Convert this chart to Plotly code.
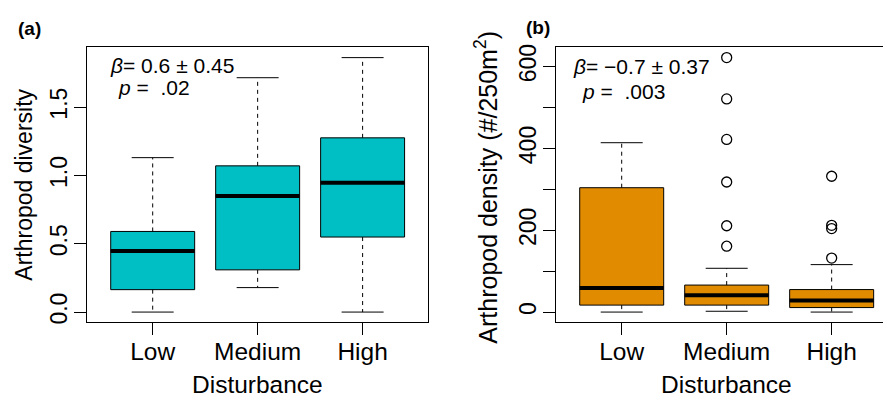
import plotly.graph_objects as go

# ---------------- data ----------------
categories = ["Low", "Medium", "High"]
positions = [1, 2, 3]

# Panel (a): Arthropod diversity
div_lower = [0.0, 0.179, 0.0]
div_q1 = [0.164, 0.309, 0.549]
div_median = [0.447, 0.85, 0.947]
div_q3 = [0.59, 1.07, 1.275]
div_upper = [1.13, 1.715, 1.862]
div_outliers = [[], [], []]

# Panel (b): Arthropod density
den_lower = [0.0, 2.0, 0.0]
den_q1 = [17.0, 17.0, 11.0]
den_median = [59.0, 41.0, 28.0]
den_q3 = [304.0, 66.0, 55.0]
den_upper = [414.0, 107.0, 116.0]
den_outliers = [[], [622, 521, 422, 318, 211, 161], [332, 212, 204, 132]]

div_ticks = [0.0, 0.5, 1.0, 1.5]
div_ticktext = ["0.0", "0.5", "1.0", "1.5"]
den_ticks = [0, 200, 400, 600]
den_ticktext = ["0", "200", "400", "600"]
den_minor_step = 100

# ---------------- style ----------------
W, H = 883, 399
FONT = "Liberation Sans, Arial, Helvetica, sans-serif"
CYAN = "#00BFC4"
ORANGE = "#E08B00"
BOX_W = 0.8
CAP_HALF = 0.2


def px_x(p):
    return p / W


def px_y(p):
    return 1 - p / H


fig = go.Figure()


def add_panel(xa, ya, lower, q1, med, q3, upper, outl, color):
    xref = "x" if xa == 1 else "x2"
    yref = "y" if ya == 1 else "y2"
    fig.add_trace(go.Box(
        x=positions, q1=q1, median=med, q3=q3, lowerfence=q1, upperfence=q3,
        width=BOX_W, fillcolor=color, line=dict(color="black", width=1),
        whiskerwidth=0, boxpoints=False, showlegend=False, hoverinfo="skip",
        xaxis=xref, yaxis=yref,
    ))
    # whiskers (dashed)
    wx, wy = [], []
    for p, lo, a, b, hi in zip(positions, lower, q1, q3, upper):
        wx += [p, p, None, p, p, None]
        wy += [b, hi, None, a, lo, None]
    fig.add_trace(go.Scatter(x=wx, y=wy, mode="lines",
                             line=dict(color="black", width=1, dash="4px,4px"),
                             showlegend=False, hoverinfo="skip", xaxis=xref, yaxis=yref))
    # caps
    cx, cy = [], []
    for p, lo, hi in zip(positions, lower, upper):
        cx += [p - CAP_HALF, p + CAP_HALF, None, p - CAP_HALF, p + CAP_HALF, None]
        cy += [hi, hi, None, lo, lo, None]
    fig.add_trace(go.Scatter(x=cx, y=cy, mode="lines",
                             line=dict(color="black", width=1),
                             showlegend=False, hoverinfo="skip", xaxis=xref, yaxis=yref))
    # medians
    mx, my = [], []
    for p, m in zip(positions, med):
        mx += [p - BOX_W / 2, p + BOX_W / 2, None]
        my += [m, m, None]
    fig.add_trace(go.Scatter(x=mx, y=my, mode="lines",
                             line=dict(color="black", width=4),
                             showlegend=False, hoverinfo="skip", xaxis=xref, yaxis=yref))
    # outliers
    ox, oy = [], []
    for p, vals in zip(positions, outl):
        for v in vals:
            ox.append(p)
            oy.append(v)
    if ox:
        fig.add_trace(go.Scatter(x=ox, y=oy, mode="markers",
                                 marker=dict(symbol="circle-open", size=10, color="black",
                                             line=dict(width=1.3, color="black")),
                                 showlegend=False, hoverinfo="skip", xaxis=xref, yaxis=yref))


add_panel(1, 1, div_lower, div_q1, div_median, div_q3, div_upper, div_outliers, CYAN)
add_panel(2, 2, den_lower, den_q1, den_median, den_q3, den_upper, den_outliers, ORANGE)


def yrange(lower, upper, outl):
    vals = list(lower) + list(upper) + [v for o in outl for v in o]
    lo, hi = min(vals), max(vals)
    pad = 0.04 * (hi - lo)
    return [lo - pad, hi + pad]


xtickfont = dict(family=FONT, size=24.5, color="black")
ytickfont = dict(family=FONT, size=23, color="black")
common_x = dict(tickmode="array", tickvals=positions, ticktext=categories,
                ticks="outside", ticklen=12, tickwidth=1, tickcolor="black",
                showline=True, linecolor="black", linewidth=1, showgrid=False,
                zeroline=False, tickfont=xtickfont, ticklabelstandoff=-5)
common_y = dict(ticks="outside", ticklen=12, tickwidth=1, tickcolor="black",
                showline=True, linecolor="black", linewidth=1, showgrid=False,
                zeroline=False, tickfont=ytickfont, tickangle=-90, tickmode="array",
                ticklabelstandoff=-2)

ydom = [px_y(323.3), px_y(45)]
fig.update_layout(
    width=W, height=H, margin=dict(l=0, r=0, t=0, b=0),
    paper_bgcolor="white", plot_bgcolor="white",
    font=dict(family=FONT, color="black"),
    xaxis=dict(domain=[px_x(87.3), px_x(428)], range=[0.377, 3.623], mirror=True,
               anchor="y", **common_x),
    yaxis=dict(domain=ydom, range=yrange(div_lower, div_upper, div_outliers),
               tickvals=div_ticks, ticktext=div_ticktext, mirror=True, anchor="x",
               **common_y),
    xaxis2=dict(domain=[px_x(556.3), 1.0], range=[0.377, 3.489], mirror=True,
                anchor="y2", **common_x),
    yaxis2=dict(domain=ydom, range=yrange(den_lower, den_upper, den_outliers),
                tickvals=den_ticks, ticktext=den_ticktext, mirror=False, anchor="x2",
                minor=dict(tick0=0, dtick=den_minor_step, ticks="outside", ticklen=12,
                           tickwidth=1, tickcolor="black", showgrid=False),
                **common_y),
)

ann = []
xlab = dict(family=FONT, size=24.5, color="black")
ylab_a = dict(family=FONT, size=23, color="black")
ylab_b = dict(family=FONT, size=25, color="black")
# axis titles
ann.append(dict(text="Disturbance", x=px_x(257.7), y=px_y(386), xref="paper", yref="paper",
                showarrow=False, font=xlab, xanchor="center", yanchor="middle"))
ann.append(dict(text="Disturbance", x=px_x(726.7), y=px_y(386), xref="paper", yref="paper",
                showarrow=False, font=xlab, xanchor="center", yanchor="middle"))
ann.append(dict(text="Arthropod diversity", x=px_x(24), y=px_y(184), xref="paper", yref="paper",
                showarrow=False, font=ylab_a, textangle=-90, xanchor="center", yanchor="middle"))
ann.append(dict(text="Arthropod density (#/250m<sup>2</sup>)", x=px_x(486), y=px_y(186),
                xref="paper", yref="paper", showarrow=False, font=ylab_b, textangle=-90,
                xanchor="center", yanchor="middle"))
# panel labels
pl = dict(family=FONT, size=19, color="black")
ann.append(dict(text="<b>(a)</b>", x=px_x(16), y=px_y(26), xref="paper", yref="paper",
                showarrow=False, font=pl, xanchor="left", yanchor="middle"))
ann.append(dict(text="<b>(b)</b>", x=px_x(524), y=px_y(25), xref="paper", yref="paper",
                showarrow=False, font=pl, xanchor="left", yanchor="middle"))
# stats
st = dict(family=FONT, size=21, color="black")
ann.append(dict(text="<i>β</i>= 0.6 ± 0.45", x=px_x(108), y=px_y(63), xref="paper", yref="paper",
                showarrow=False, font=st, xanchor="left", yanchor="middle"))
ann.append(dict(text="<i>p</i> =  .02", x=px_x(116), y=px_y(86), xref="paper", yref="paper",
                showarrow=False, font=st, xanchor="left", yanchor="middle"))
ann.append(dict(text="<i>β</i>= \u22120.7 ± 0.37", x=px_x(571), y=px_y(64), xref="paper", yref="paper",
                showarrow=False, font=st, xanchor="left", yanchor="middle"))
ann.append(dict(text="<i>p</i> =  .003", x=px_x(580), y=px_y(90), xref="paper", yref="paper",
                showarrow=False, font=st, xanchor="left", yanchor="middle"))
fig.update_layout(annotations=ann)

fig.write_html("out.html", config={"displayModeBar": False},
               post_script="document.body.style.margin='0';document.body.style.overflow='hidden';")
